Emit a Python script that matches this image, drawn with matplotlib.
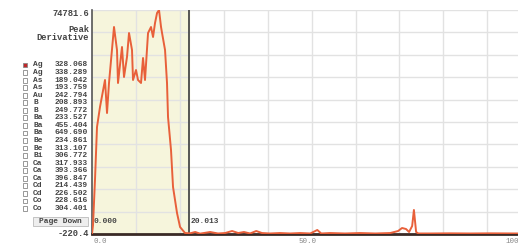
"""Peak derivative trace with line list panel."""

import matplotlib

matplotlib.use("Agg")
import matplotlib.pyplot as plt
from matplotlib.patches import Rectangle

# trace (x in scan units, y in counts)
trace_x = [0.0, 0.23, 0.68, 1.14, 1.82, 2.96, 3.42, 3.87, 5.01, 5.69, 5.92,
           6.83, 7.29, 7.97, 8.43, 9.11, 9.34, 10.02, 10.48, 11.16, 11.62,
           12.07, 12.76, 13.44, 13.90, 14.35, 14.81, 15.26, 15.72, 15.95,
           16.63, 17.08, 17.31, 17.99, 18.45, 19.36, 20.05, 21.18, 22.3,
           23.5, 24.6, 26.9, 28.7, 30.3, 31.9, 33.3, 34.6, 36.0, 37.4, 38.7,
           40.5, 42.8, 45.1, 47.4, 49.7, 51.3, 52.2, 54.2, 57.6, 61.0, 64.5,
           67.9, 69.7, 70.6, 71.5, 72.2, 72.9, 73.3, 73.8, 74.3, 77.0, 81.5,
           86.1, 90.7, 97.0]
trace_y = [-220, 2790, 17860, 35610, 42300, 51340, 40290, 50340, 69090,
           61390, 50340, 62390, 52350, 59050, 67080, 61390, 51340, 54690,
           51340, 50340, 58710, 51340, 67080, 69090, 65740, 70430, 73770,
           74780, 69090, 67080, 61390, 50340, 38960, 27910, 15520, 6810,
           2120, 110, 0, 450, -100, 450, -50, 100, 780, 100, 450, -50, 780,
           100, -50, 100, -50, 100, -50, 1120, -50, 100, -50, 100, -50, 100,
           780, 1790, 1450, 450, 2460, 7820, 450, -50, -50, 0, -50, 0, -50]

y_min, y_max = -220.4, 74781.6
x_max = 97.0
window_start, window_end = 0.0, 22.1

elements = ["Ag", "Ag", "As", "As", "Au", "B", "B", "Ba", "Ba", "Ba", "Be",
            "Be", "Bi", "Ca", "Ca", "Ca", "Cd", "Cd", "Co", "Co"]
wavelengths = ["328.068", "338.289", "189.042", "193.759", "242.794",
               "208.893", "249.772", "233.527", "455.404", "649.690",
               "234.861", "313.107", "306.772", "317.933", "393.366",
               "396.847", "214.439", "226.502", "228.616", "304.401"]
selected = 0

W, H = 518, 246
fig = plt.figure(figsize=(W / 100, H / 100), dpi=100)
fig.patch.set_facecolor("white")
ax = fig.add_axes([92 / W, 1 - 234 / H, 1 - 92 / W, 224 / H])

ax.axvspan(window_start, window_end, color="#f6f5dc", zorder=0)
ax.axvline(window_end, color="#555555", lw=1.4, zorder=3)
ax.plot(trace_x, trace_y, color="#e8603a", lw=1.4, zorder=4)

ax.set_xlim(0, x_max)
ax.set_ylim(y_min, y_max)
ax.set_xticks([x for x in range(10, 100, 10)], minor=True)
ax.set_yticks([y_min + i * (y_max - y_min) / 10 for i in range(1, 11)], minor=True)
ax.grid(True, which="minor", color="#e2e2e2", lw=1.0)
ax.set_xticks([])
ax.set_yticks([])
for side in ("top", "right"):
    ax.spines[side].set_visible(False)
ax.spines["left"].set_color("#555555")
ax.spines["left"].set_linewidth(1.2)
ax.spines["bottom"].set_color("#3a2a26")
ax.spines["bottom"].set_linewidth(2.0)
ax.tick_params(which="both", length=0)

mono = "Liberation Mono"
txt = dict(family=mono, fontsize=6.3, color="#444444", fontweight="bold")
lst = dict(family=mono, fontsize=5.7, color="#444444", fontweight="bold")

ax.text(0.3, 0.04, "0.000", transform=ax.get_xaxis_transform(), ha="left",
        va="bottom", **lst)
ax.text(window_end + 0.3, 0.04, "20.013", transform=ax.get_xaxis_transform(),
        ha="left", va="bottom", **lst)

# x labels
xl = dict(family=mono, fontsize=5.4, color="#888888")
fig.text(93 / W, 1 - 241.5 / H, "0.0", ha="left", va="center", **xl)
fig.text(307 / W, 1 - 241.5 / H, "50.0", ha="center", va="center", **xl)
fig.text(519 / W, 1 - 241.5 / H, "100", ha="right", va="center", **xl)

# left panel
fig.text(89 / W, 1 - 14 / H, f"{y_max:.1f}", ha="right", va="center", **txt)
fig.text(89 / W, 1 - 29 / H, "Peak", ha="right", va="center", **txt)
fig.text(89 / W, 1 - 37 / H, "Derivative", ha="right", va="center", **txt)

row0, step = 65, 7.55
for i, (el, wl) in enumerate(zip(elements, wavelengths)):
    y = 1 - (row0 + i * step) / H
    box_face = "#c0282a" if i == selected else "white"
    fig.add_artist(Rectangle((22.5 / W, y - 2.4 / H), 4.5 / W, 4.8 / H,
                             transform=fig.transFigure, facecolor=box_face,
                             edgecolor="#888888", lw=0.6))
    fig.text(33 / W, y, el, ha="left", va="center", **lst)
    fig.text(88 / W, y, wl, ha="right", va="center", **lst)

fig.add_artist(Rectangle((33 / W, 1 - 226 / H), 55 / W, 9 / H,
                         transform=fig.transFigure, facecolor="#eeeeee",
                         edgecolor="#bbbbbb", lw=0.6))
fig.text(60.5 / W, 1 - 221.5 / H, "Page Down", ha="center", va="center", **lst)
fig.text(89 / W, 1 - 233 / H, f"{y_min:.1f}", ha="right", va="center", **txt)

fig.savefig("out.png", dpi=100)
